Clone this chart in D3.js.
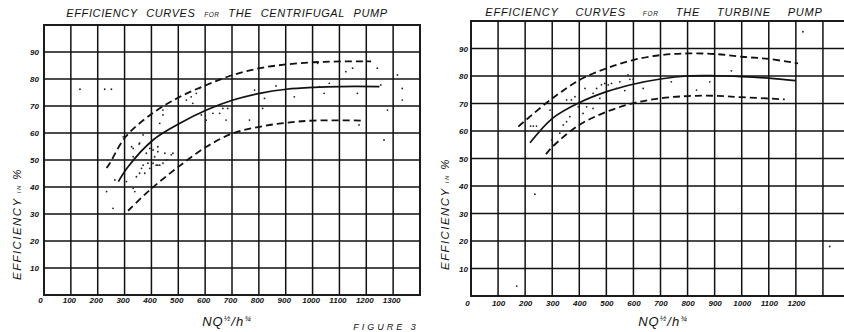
<!DOCTYPE html>
<html>
<head>
<meta charset="utf-8">
<script src="https://cdn.jsdelivr.net/npm/d3@7"></script>
<style>
  body { margin: 0; background: #fff; }
  svg { display: block; }
  .lbl { font-family: "Liberation Sans Narrow", "Liberation Sans", sans-serif; font-style: italic; font-weight: bold; fill: #111; }
</style>
</head>
<body>
<svg id="chart" width="844" height="332"></svg>
<script>
// tick labels
const xTickValues = [0, 100, 200, 300, 400, 500, 600, 700, 800, 900, 1000, 1100, 1200, 1300];
const yTickValues = [0, 10, 20, 30, 40, 50, 60, 70, 80, 90];

// centrifugal pump: [NQ^1/2 / h^3/4, efficiency %]
const cenMean = [[277, 42], [313, 47.5], [406, 57.4], [506, 63.6], [605, 68.5], [704, 72.2], [803, 74.7], [902, 76.2], [1004, 76.9], [1103, 77.2], [1249, 77.2]];
const cenUpper = [[233, 47], [245, 48.8], [304, 58.6], [404, 67.3], [506, 73.4], [605, 77.8], [704, 81.5], [803, 84], [902, 85.4], [1004, 86.2], [1103, 86.5], [1218, 86.5]];
const cenLower = [[313, 31.2], [394, 38.9], [493, 46.9], [605, 54.9], [704, 59.9], [803, 62.3], [902, 63.8], [1004, 64.6], [1187, 64.6]];
const cenDots = [
  [134, 76.2], [226, 76.2], [251, 76.2], [295, 58.6], [326, 54.9], [332, 51.2], [356, 56.2], [381, 52.5], [394, 54.3],
  [412, 51.2], [424, 53.1], [443, 68.5], [443, 66.7], [456, 50], [480, 52.5], [530, 72.2], [548, 73.4], [554, 71],
  [567, 74.7], [579, 76.5], [586, 66.7], [604, 64.8], [629, 67.3], [654, 67.3], [666, 69.1], [678, 64.8], [684, 69.1],
  [765, 64.8], [784, 75.9], [814, 69.1], [821, 72.8], [864, 77.4], [932, 73.4], [1019, 85.8], [1025, 77.2], [1043, 74.7],
  [1062, 78.4], [1124, 82.7], [1149, 84], [1167, 74.7], [1173, 63], [1241, 84], [1254, 77.8], [1279, 68.5], [1316, 81.5],
  [1334, 76.5], [1334, 72.2], [1266, 57.4], [257, 32.1], [264, 42.6], [332, 39.5], [356, 45.1], [369, 48.1], [418, 48.1],
  [431, 48.1], [394, 46.9], [344, 43.8], [369, 59.3], [332, 54.3], [354, 55.9], [394, 56.2], [406, 53.7], [424, 54.9],
  [431, 63.6], [450, 52.5], [474, 51.9], [387, 48.8], [406, 48.8], [424, 48.1], [443, 48.8], [363, 46.9], [375, 45.1],
  [338, 38.3], [307, 42], [233, 38.3]
];

// turbine pump
const turMean = [[218, 55.7], [301, 64.6], [400, 70.3], [501, 74.3], [599, 77], [700, 78.9], [800, 80], [900, 80.1], [999, 79.8], [1100, 79.2], [1199, 78.3]];
const turUpper = [[175, 61.6], [203, 64], [301, 71.9], [400, 78.5], [501, 82.8], [599, 85.8], [700, 87.6], [800, 88.2], [900, 88], [999, 87], [1100, 86.2], [1208, 84.6]];
const turLower = [[277, 51.6], [301, 54.3], [400, 62.2], [501, 67], [599, 70.1], [700, 71.9], [800, 72.7], [900, 72.8], [999, 72.3], [1159, 71.5]];
const turDots = [
  [220, 61.8], [230, 61.8], [242, 61.8], [292, 67.6], [298, 56.7], [328, 59.2], [341, 62.2], [353, 63.4], [365, 65.2],
  [353, 71.3], [371, 71.3], [384, 72.5], [396, 68.8], [414, 66.4], [427, 68.8], [451, 68.2], [421, 75.5], [451, 73.7],
  [464, 75.5], [476, 71.9], [482, 76.8], [494, 77.3], [507, 76.8], [519, 77.3], [537, 75.5], [550, 77.9], [568, 74.7],
  [580, 80.4], [587, 78.8], [599, 78.8], [636, 75.5], [740, 77.9], [833, 74.9], [882, 77.9], [962, 81.9], [1226, 96.1],
  [169, 3.6], [1325, 18], [236, 37]
];

const svg = d3.select('#chart');

function drawPanel(opt) {
  const x = d3.scaleLinear().domain([0, 1400]).range(opt.xRange);
  const y = d3.scaleLinear().domain([0, 100]).range(opt.yRange);
  const g = svg.append('g');
  const w = opt.xRange[1] - opt.xRange[0];
  const h = opt.yRange[0] - opt.yRange[1];

  // grid
  const grid = g.append('g').attr('stroke', '#111').attr('stroke-width', 1.5);
  grid.selectAll('line.h').data(yTickValues.slice(1)).enter().append('line')
    .attr('x1', opt.xRange[0]).attr('x2', opt.xRange[1])
    .attr('y1', d => y(d)).attr('y2', d => y(d));
  grid.selectAll('line.v').data(xTickValues.slice(1)).enter().append('line')
    .attr('y1', opt.yRange[0]).attr('y2', opt.yRange[1])
    .attr('x1', d => x(d)).attr('x2', d => x(d));

  // tick labels
  const yAxis = g.append('g')
    .attr('transform', `translate(${opt.xRange[0]},0)`)
    .call(d3.axisLeft(y).tickValues(yTickValues.slice(1)).tickSize(0).tickPadding(opt.yPad));
  yAxis.select('.domain').remove();
  yAxis.selectAll('text').attr('class', 'lbl').style('font-size', '8px');

  const xAxis = g.append('g')
    .attr('transform', `translate(0,${opt.yRange[0]})`)
    .call(d3.axisBottom(x).tickValues(opt.xLabels).tickSize(0).tickPadding(opt.xPad).tickFormat(d3.format('d')));
  xAxis.select('.domain').remove();
  xAxis.selectAll('text').attr('class', 'lbl').style('font-size', '8px')
    .attr('dx', d => d === 0 ? -4 : opt.xShift);

  // frame
  g.append('rect')
    .attr('x', opt.xRange[0]).attr('y', opt.yRange[1])
    .attr('width', w).attr('height', h)
    .attr('fill', 'none').attr('stroke', '#111').attr('stroke-width', 1.9);

  const line = d3.line().x(d => x(d[0])).y(d => y(d[1])).curve(d3.curveCatmullRom.alpha(0.5));

  g.append('path').datum(opt.mean).attr('d', line)
    .attr('fill', 'none').attr('stroke', '#111').attr('stroke-width', 1.7);
  [opt.upper, opt.lower].forEach(s => {
    g.append('path').datum(s).attr('d', line)
      .attr('fill', 'none').attr('stroke', '#111').attr('stroke-width', 1.8)
      .attr('stroke-dasharray', '7,4');
  });

  g.selectAll('circle.pt').data(opt.dots).enter().append('circle')
    .attr('class', 'pt')
    .attr('cx', d => x(d[0])).attr('cy', d => y(d[1]))
    .attr('r', 0.9).attr('fill', '#222');

  // title
  const t = g.append('text').attr('class', 'lbl')
    .attr('x', opt.titleX).attr('y', opt.titleY)
    .attr('text-anchor', 'middle')
    .style('font-size', '11px').style('font-weight', 'normal')
    .style('letter-spacing', opt.titleLs).style('word-spacing', opt.titleWs);
  t.append('tspan').text('EFFICIENCY CURVES ');
  t.append('tspan').style('font-size', '6.5px').text('FOR');
  t.append('tspan').text(' ' + opt.title);

  // y title
  const yt = g.append('text').attr('class', 'lbl')
    .attr('transform', `translate(${opt.yTitleX},${opt.yTitleY}) rotate(-90)`)
    .attr('text-anchor', 'middle')
    .style('font-size', '11.5px').style('font-weight', 'normal').style('letter-spacing', '1.4px');
  yt.append('tspan').text('EFFICIENCY ');
  yt.append('tspan').style('font-size', '6px').text('IN');
  yt.append('tspan').text('  %');

  // x title
  const xt = g.append('text').attr('class', 'lbl')
    .attr('x', opt.xTitleX).attr('y', 326)
    .attr('text-anchor', 'middle')
    .style('font-size', '13px').style('font-weight', 'normal').style('letter-spacing', '1px');
  xt.append('tspan').text('NQ');
  xt.append('tspan').attr('dy', -5).style('font-size', '8px').text('½');
  xt.append('tspan').attr('dy', 5).text('/h');
  xt.append('tspan').attr('dy', -5).style('font-size', '8px').text('¾');
}

drawPanel({
  xRange: [44, 420], yRange: [295, 25], yPad: 5, xPad: 2, xShift: -2,
  xLabels: xTickValues,
  mean: cenMean, upper: cenUpper, lower: cenLower, dots: cenDots,
  title: 'THE CENTRIFUGAL PUMP', titleX: 227, titleY: 17, titleLs: '0.6px', titleWs: '5px',
  yTitleX: 21, yTitleY: 224, xTitleX: 227
});

drawPanel({
  xRange: [471, 850], yRange: [296, 21], yPad: 3, xPad: 4, xShift: 0,
  xLabels: xTickValues.slice(0, 13),
  mean: turMean, upper: turUpper, lower: turLower, dots: turDots,
  title: 'THE TURBINE PUMP', titleX: 654, titleY: 16, titleLs: '0.8px', titleWs: '13px',
  yTitleX: 449, yTitleY: 214, xTitleX: 663
});

// figure caption
svg.append('text').attr('class', 'lbl')
  .attr('x', 386).attr('y', 330)
  .attr('text-anchor', 'middle')
  .style('font-size', '9px').style('font-weight', 'normal').style('letter-spacing', '3px')
  .text('FIGURE 3');
</script>
</body>
</html>
